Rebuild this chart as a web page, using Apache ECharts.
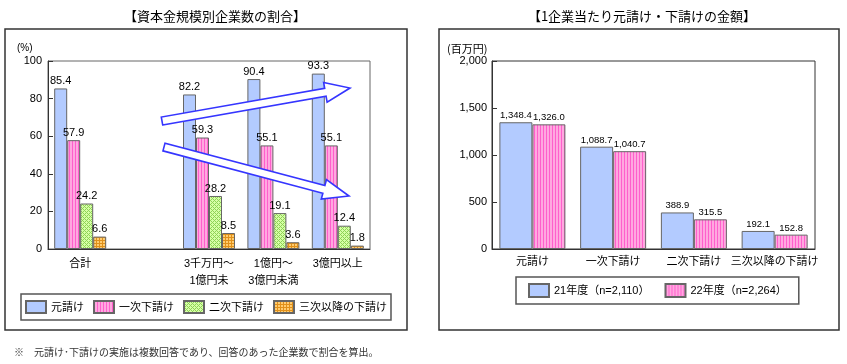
<!DOCTYPE html>
<html>
<head>
<meta charset="utf-8">
<script src="https://cdn.jsdelivr.net/npm/echarts@6/dist/echarts.min.js"></script>
<style>
html,body{margin:0;padding:0;background:#fff;}
#c{width:847px;height:364px;}
</style>
</head>
<body>
<div id="c"></div>
<script>
// ---- data ----
const leftCategories = ['合計', '', '3千万円～\n1億円未', '1億円～\n3億円未満', '3億円以上'];
const leftSeriesNames = ['元請け', '一次下請け', '二次下請け', '三次以降の下請け'];
const motouke = [85.4, null, 82.2, 90.4, 93.3];
const ichiji = [57.9, null, 59.3, 55.1, 55.1];
const niji = [24.2, null, 28.2, 19.1, 12.4];
const sanji = [6.6, null, 8.5, 3.6, 1.8];
const leftTicks = [0, 20, 40, 60, 80, 100];

const rightCategories = ['元請け', '一次下請け', '二次下請け', '三次以降の下請け'];
const rightSeriesNames = ['21年度（n=2,110）', '22年度（n=2,264）'];
const fy21 = [1348.4, 1088.7, 388.9, 192.1];
const fy22 = [1326.0, 1040.7, 315.5, 152.8];
const rightTicks = [0, 500, 1000, 1500, 2000];

// ---- patterns ----
function pattern(w, h, draw) {
  const c = document.createElement('canvas');
  c.width = w; c.height = h;
  const g = c.getContext('2d');
  draw(g);
  return { image: c, repeat: 'repeat' };
}
const BLUE = '#b3cbff';
const PINK = pattern(3, 1, g => {
  g.fillStyle = '#ffa8e0'; g.fillRect(0, 0, 3, 1);
  g.fillStyle = '#ff5fcc'; g.fillRect(0, 0, 1, 1);
});
const GREEN = pattern(4, 4, g => {
  g.fillStyle = '#d6ffa6'; g.fillRect(0, 0, 4, 4);
  g.fillStyle = '#8fd257';
  [[1,1],[3,3],[2,0],[3,1],[0,2],[1,3]].forEach(p => g.fillRect(p[0], p[1], 1, 1));
});
const ORANGE = pattern(3, 3, g => {
  g.fillStyle = '#ffcc70'; g.fillRect(0, 0, 3, 3);
  g.fillStyle = '#e0901a'; g.fillRect(0, 0, 3, 1); g.fillRect(0, 0, 1, 3);
});

const FONT = '"Liberation Sans", "Noto Sans CJK JP", sans-serif';
const JFONT = '"Noto Sans CJK JP", sans-serif';
const BORDER = '#666';

function fmt1(v) {
  return Number(v).toLocaleString('en-US', { minimumFractionDigits: 1, maximumFractionDigits: 1 });
}

// ---- arrows (annotation) ----
function arrowPoly(tx, ty, px, py, w, hw, hl) {
  const dx = px - tx, dy = py - ty, L = Math.hypot(dx, dy);
  const ux = dx / L, uy = dy / L, nx = -uy, ny = ux;
  const bx = px - ux * hl, by = py - uy * hl;
  return [
    [tx + nx * w, ty + ny * w], [bx + nx * w, by + ny * w], [bx + nx * hw, by + ny * hw],
    [px, py], [bx - nx * hw, by - ny * hw], [bx - nx * w, by - ny * w], [tx - nx * w, ty - ny * w]
  ];
}

const chart = echarts.init(document.getElementById('c'));

const leftData = [motouke, ichiji, niji, sanji];
const leftColors = [BLUE, PINK, GREEN, ORANGE];

const series = [];
leftData.forEach((d, i) => {
  series.push({
    name: leftSeriesNames[i], type: 'bar', xAxisIndex: 0, yAxisIndex: 0,
    data: d, barWidth: 13, barGap: '0%',
    itemStyle: { color: leftColors[i], borderColor: BORDER, borderWidth: 1 },
    label: { show: true, position: 'top', distance: 2, fontSize: 11, fontFamily: FONT, color: '#000',
      formatter: p => p.value == null ? '' : Number(p.value).toFixed(1) },
    emphasis: { disabled: true }
  });
});
[fy21, fy22].forEach((d, i) => {
  series.push({
    name: rightSeriesNames[i], type: 'bar', xAxisIndex: 1, yAxisIndex: 1,
    data: d, barWidth: 33, barGap: '0%',
    itemStyle: { color: [BLUE, PINK][i], borderColor: BORDER, borderWidth: 1 },
    label: { show: true, position: 'top', distance: 2, fontSize: 9.5, fontFamily: FONT, color: '#000',
      formatter: p => fmt1(p.value) },
    emphasis: { disabled: true }
  });
});

const axisLabelBase = { fontSize: 11, fontFamily: FONT, color: '#000' };

chart.setOption({
  animation: false,
  backgroundColor: '#fff',
  title: [
    { text: '【資本金規模別企業数の割合】', left: 210, top: 5, textAlign: 'center',
      textStyle: { fontSize: 13, fontWeight: 'normal', fontFamily: JFONT, color: '#000' } },
    { text: '【1企業当たり元請け・下請けの金額】', left: 637, top: 5, textAlign: 'center',
      textStyle: { fontSize: 13, fontWeight: 'normal', fontFamily: JFONT, color: '#000' } }
  ],
  grid: [
    { left: 48, top: 61, width: 322, height: 188, show: true, borderColor: '#666', borderWidth: 1, backgroundColor: 'transparent' },
    { left: 492, top: 61, width: 323, height: 188, show: true, borderColor: '#333', borderWidth: 1, backgroundColor: 'transparent' }
  ],
  xAxis: [
    { type: 'category', gridIndex: 0, data: leftCategories,
      axisLine: { lineStyle: { color: '#333' } },
      axisTick: { inside: true, length: 5, lineStyle: { color: '#333' } },
      axisLabel: Object.assign({}, axisLabelBase, { margin: 6, lineHeight: 17, interval: 0 }) },
    { type: 'category', gridIndex: 1, data: rightCategories,
      axisLine: { lineStyle: { color: '#333' } },
      axisTick: { inside: true, length: 5, lineStyle: { color: '#333' } },
      axisLabel: Object.assign({}, axisLabelBase, { margin: 6, interval: 0, fontFamily: JFONT }) }
  ],
  yAxis: [
    { type: 'value', gridIndex: 0, min: leftTicks[0], max: leftTicks[leftTicks.length - 1], interval: 20,
      axisLine: { show: true, lineStyle: { color: '#333' } },
      axisTick: { show: true, inside: true, length: 5, lineStyle: { color: '#333' } },
      splitLine: { show: false },
      axisLabel: Object.assign({}, axisLabelBase, { margin: 6 }) },
    { type: 'value', gridIndex: 1, min: rightTicks[0], max: rightTicks[rightTicks.length - 1], interval: 500,
      axisLine: { show: true, lineStyle: { color: '#333' } },
      axisTick: { show: true, inside: true, length: 5, lineStyle: { color: '#333' } },
      splitLine: { show: false },
      axisLabel: Object.assign({}, axisLabelBase, { margin: 5, formatter: v => Number(v).toLocaleString('en-US') }) }
  ],
  legend: [
    { data: leftSeriesNames, left: 21, top: 294, orient: 'horizontal',
      itemWidth: 20, itemHeight: 12, itemGap: 9, padding: [6, 4, 6, 4],
      borderColor: '#555', borderWidth: 1.5, icon: 'rect', selectedMode: false,
      textStyle: { fontSize: 11, fontFamily: JFONT, color: '#000' } },
    { data: rightSeriesNames, left: 516, top: 277, orient: 'horizontal',
      itemWidth: 20, itemHeight: 13, itemGap: 15, padding: [6, 12, 6, 12],
      borderColor: '#555', borderWidth: 1.5, icon: 'rect', selectedMode: false,
      textStyle: { fontSize: 11, fontFamily: FONT, color: '#000' } }
  ],
  series: series,
  graphic: [
    { type: 'rect', shape: { x: 5, y: 29, width: 402, height: 301 }, style: { fill: 'none', stroke: '#333', lineWidth: 1.5 }, z: 0, silent: true },
    { type: 'rect', shape: { x: 439, y: 29, width: 400, height: 301 }, style: { fill: 'none', stroke: '#333', lineWidth: 1.5 }, z: 0, silent: true },
    { type: 'text', left: 17, top: 43, style: { text: '(%)', fontSize: 10, fontFamily: FONT, fill: '#000' } },
    { type: 'text', left: 447, top: 43, style: { text: '(百万円)', fontSize: 11, fontFamily: JFONT, fill: '#000' } },
    { type: 'polygon', shape: { points: arrowPoly(162, 121, 350, 88, 4, 10, 25) },
      style: { fill: '#fff', stroke: '#3535ff', lineWidth: 1.6 }, z: 50, silent: true },
    { type: 'polygon', shape: { points: arrowPoly(164, 147, 349, 196, 4, 10, 26) },
      style: { fill: '#fff', stroke: '#3535ff', lineWidth: 1.6 }, z: 50, silent: true },
    { type: 'text', left: 14, top: 347, style: { text: '※　元請け･下請けの実施は複数回答であり、回答のあった企業数で割合を算出。', fontSize: 10, fontFamily: JFONT, fill: '#333' } }
  ]
});
</script>
</body>
</html>
